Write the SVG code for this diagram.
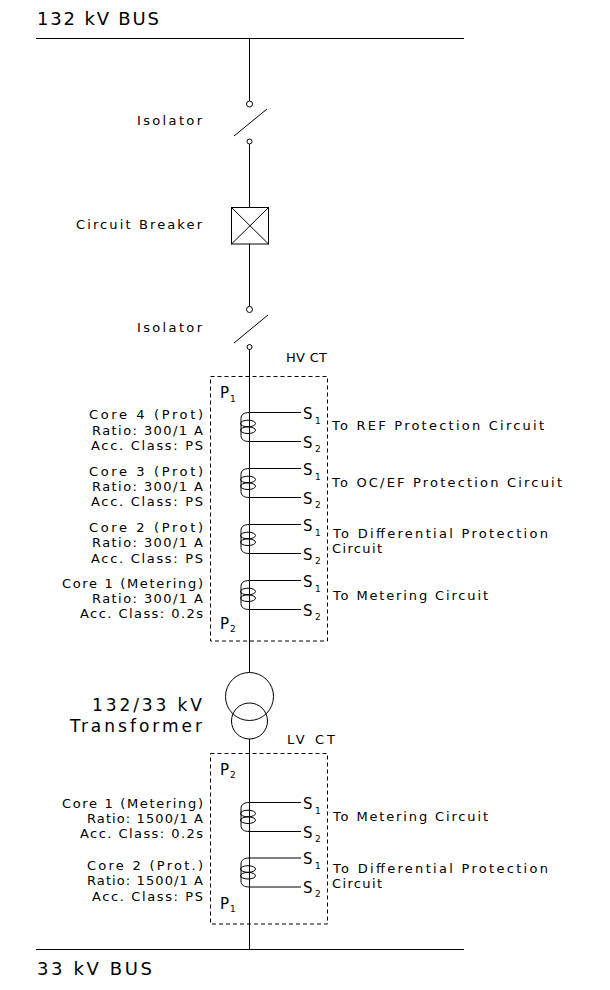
<svg xmlns="http://www.w3.org/2000/svg" width="610" height="990" viewBox="0 0 610 990">
<style>
.ln{stroke:#000;stroke-width:1;fill:none}
.dash{stroke:#000;stroke-width:1;fill:none;stroke-dasharray:4,3}
text{font-family:"DejaVu Sans","Liberation Sans",Arial,sans-serif;fill:#000}
.t13{font-size:13px}
.t17{font-size:17px}
.t18{font-size:18px}
.s{font-size:15px}
.sub{font-size:9px}
.end{text-anchor:end}
</style>
<defs>
<g id="coil">
<path class="ln" d="M249.5,0 C244,0 241,2 241,6 L241,23 C241,27 244,29 249.5,29"/>
<ellipse class="ln" cx="248" cy="11" rx="7.5" ry="3.3"/>
<ellipse class="ln" cx="248" cy="17.7" rx="7.5" ry="3.3"/>
<line class="ln" x1="249.5" y1="0" x2="301" y2="0"/>
<line class="ln" x1="249.5" y1="29" x2="301" y2="29"/>
<text class="s" x="303" y="6">S</text><text class="sub" x="315" y="11">1</text>
<text class="s" x="303" y="35">S</text><text class="sub" x="315" y="39">2</text>
</g>
</defs>
<rect width="610" height="990" fill="#fff"/>

<g id="connectors">
<line class="ln" x1="249.5" y1="38.5" x2="249.5" y2="101"/>
<line class="ln" x1="249.5" y1="144" x2="249.5" y2="207"/>
<line class="ln" x1="249.5" y1="244" x2="249.5" y2="306.5"/>
<line class="ln" x1="249.5" y1="349.5" x2="249.5" y2="672"/>
<line class="ln" x1="249.5" y1="739" x2="249.5" y2="949"/>
</g>

<g id="bus-132">
<line class="ln" x1="36" y1="38.5" x2="464" y2="38.5"/>
<text class="t18" x="37" y="25" textLength="122" lengthAdjust="spacing">132 kV BUS</text>
</g>

<g id="isolator-1">
<circle class="ln" cx="249.5" cy="104" r="3"/>
<circle class="ln" cx="249.5" cy="141.5" r="2.5"/>
<line class="ln" x1="234" y1="136" x2="267" y2="109"/>
<text class="t13" x="137" y="125" textLength="65" lengthAdjust="spacing">Isolator</text>
</g>

<g id="circuit-breaker">
<rect class="ln" x="231.5" y="207.5" width="37" height="36.5"/>
<line class="ln" x1="231.5" y1="207.5" x2="268.5" y2="244"/>
<line class="ln" x1="268.5" y1="207.5" x2="231.5" y2="244"/>
<text class="t13" x="76" y="229" textLength="126" lengthAdjust="spacing">Circuit Breaker</text>
</g>

<g id="isolator-2">
<circle class="ln" cx="249.5" cy="309.5" r="3"/>
<circle class="ln" cx="249.5" cy="347" r="2.5"/>
<line class="ln" x1="234" y1="343" x2="268" y2="315"/>
<text class="t13" x="137" y="332" textLength="65" lengthAdjust="spacing">Isolator</text>
</g>

<g id="hv-ct">
<rect class="dash" x="210.5" y="376.5" width="117" height="264.5"/>
<text class="t13" x="286" y="362" textLength="41" lengthAdjust="spacing">HV CT</text>
<text class="s" x="220" y="398">P</text><text class="sub" x="230" y="402">1</text>
<text class="s" x="220" y="629">P</text><text class="sub" x="230" y="632">2</text>
<use href="#coil" y="412.5"/>
<use href="#coil" y="468.5"/>
<use href="#coil" y="524.5"/>
<use href="#coil" y="580.5"/>
<text class="t13 end" x="203" y="419" textLength="114" lengthAdjust="spacing">Core 4 (Prot)</text>
<text class="t13 end" x="203" y="435" textLength="111" lengthAdjust="spacing">Ratio: 300/1 A</text>
<text class="t13 end" x="203" y="450" textLength="112" lengthAdjust="spacing">Acc. Class: PS</text>
<text class="t13 end" x="203" y="476" textLength="114" lengthAdjust="spacing">Core 3 (Prot)</text>
<text class="t13 end" x="203" y="491" textLength="111" lengthAdjust="spacing">Ratio: 300/1 A</text>
<text class="t13 end" x="203" y="506" textLength="112" lengthAdjust="spacing">Acc. Class: PS</text>
<text class="t13 end" x="203" y="532" textLength="114" lengthAdjust="spacing">Core 2 (Prot)</text>
<text class="t13 end" x="203" y="547" textLength="111" lengthAdjust="spacing">Ratio: 300/1 A</text>
<text class="t13 end" x="203" y="563" textLength="112" lengthAdjust="spacing">Acc. Class: PS</text>
<text class="t13 end" x="203" y="588" textLength="141" lengthAdjust="spacing">Core 1 (Metering)</text>
<text class="t13 end" x="203" y="603" textLength="111" lengthAdjust="spacing">Ratio: 300/1 A</text>
<text class="t13 end" x="203" y="618" textLength="123" lengthAdjust="spacing">Acc. Class: 0.2s</text>
<text class="t13" x="332" y="430" textLength="212" lengthAdjust="spacing">To REF Protection Circuit</text>
<text class="t13" x="332" y="487" textLength="230" lengthAdjust="spacing">To OC/EF Protection Circuit</text>
<text class="t13" x="333" y="538" textLength="215" lengthAdjust="spacing">To Differential Protection</text>
<text class="t13" x="332" y="553" textLength="50" lengthAdjust="spacing">Circuit</text>
<text class="t13" x="333" y="600" textLength="155" lengthAdjust="spacing">To Metering Circuit</text>
</g>

<g id="transformer">
<circle class="ln" cx="249.5" cy="696.5" r="24"/>
<circle class="ln" cx="249.5" cy="721" r="18"/>
<text class="t17 end" x="202" y="711" textLength="110" lengthAdjust="spacing">132/33 kV</text>
<text class="t17 end" x="202" y="732" textLength="132" lengthAdjust="spacing">Transformer</text>
</g>

<g id="lv-ct">
<rect class="dash" x="210.5" y="753.5" width="117" height="170.5"/>
<text class="t13" x="287" y="744" textLength="48" lengthAdjust="spacing">LV CT</text>
<text class="s" x="220" y="775">P</text><text class="sub" x="230" y="778">2</text>
<text class="s" x="220" y="909">P</text><text class="sub" x="230" y="912">1</text>
<use href="#coil" y="802.5"/>
<use href="#coil" y="858"/>
<text class="t13 end" x="203" y="808" textLength="141" lengthAdjust="spacing">Core 1 (Metering)</text>
<text class="t13 end" x="203" y="823" textLength="116" lengthAdjust="spacing">Ratio: 1500/1 A</text>
<text class="t13 end" x="203" y="838" textLength="123" lengthAdjust="spacing">Acc. Class: 0.2s</text>
<text class="t13 end" x="203" y="870" textLength="116" lengthAdjust="spacing">Core 2 (Prot.)</text>
<text class="t13 end" x="203" y="885" textLength="116" lengthAdjust="spacing">Ratio: 1500/1 A</text>
<text class="t13 end" x="203" y="901" textLength="111" lengthAdjust="spacing">Acc. Class: PS</text>
<text class="t13" x="333" y="821" textLength="155" lengthAdjust="spacing">To Metering Circuit</text>
<text class="t13" x="333" y="873" textLength="215" lengthAdjust="spacing">To Differential Protection</text>
<text class="t13" x="332" y="888" textLength="50" lengthAdjust="spacing">Circuit</text>
</g>

<g id="bus-33">
<line class="ln" x1="36" y1="949.5" x2="464" y2="949.5"/>
<text class="t18" x="37" y="975" textLength="115" lengthAdjust="spacing">33 kV BUS</text>
</g>
</svg>
